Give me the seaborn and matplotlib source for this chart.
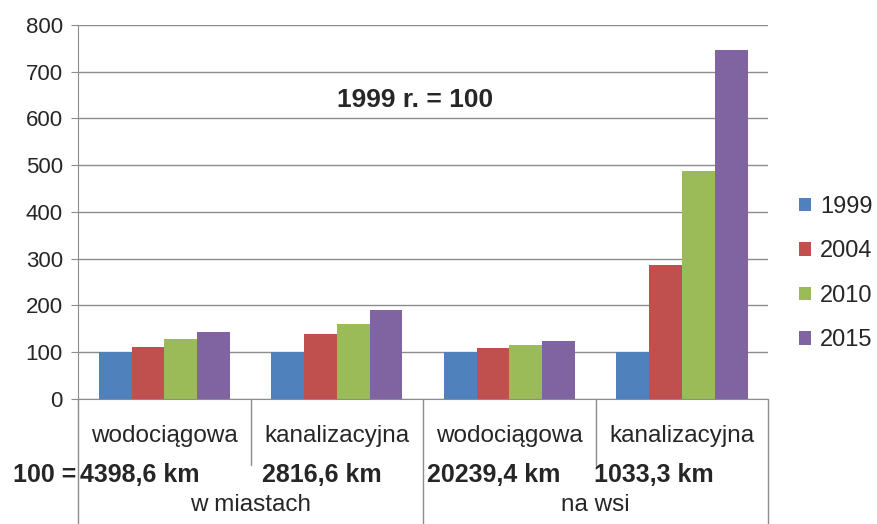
import pandas as pd
import matplotlib.pyplot as plt
import seaborn as sns
from matplotlib.lines import Line2D
import matplotlib.transforms as mtransforms

# dane (1999 r. = 100)
categories = ['wodociągowa\nw miastach', 'kanalizacyjna\nw miastach',
              'wodociągowa\nna wsi', 'kanalizacyjna\nna wsi']
sub_labels = ['wodociągowa', 'kanalizacyjna', 'wodociągowa', 'kanalizacyjna']
base_km = ['4398,6 km', '2816,6 km', '20239,4 km', '1033,3 km']
area_labels = ['w miastach', 'na wsi']
years = ['1999', '2004', '2010', '2015']
v1999 = [100, 100, 100, 100]
v2004 = [112, 139, 110, 287]
v2010 = [128, 160, 115, 487]
v2015 = [143, 190, 125, 746]

colors = ['#4F81BD', '#C0504D', '#9BBB59', '#8064A2']

rows = []
for yr, vals in zip(years, [v1999, v2004, v2010, v2015]):
    for cat, v in zip(categories, vals):
        rows.append({'kat': cat, 'rok': yr, 'val': v})
df = pd.DataFrame(rows)

sns.set_style('white')
plt.rcParams['font.family'] = ['Liberation Sans', 'DejaVu Sans']

fig = plt.figure(figsize=(8.77, 5.24), dpi=100)
ax = fig.add_axes([0.089, 0.2385, 0.787, 0.714])

sns.barplot(data=df, x='kat', y='val', hue='rok', palette=colors,
            width=0.76, saturation=1, linewidth=0, ax=ax, legend=True)

ax.set_xlim(-0.5, 3.5)
ax.set_ylim(0, 800)
ax.set_yticks(range(0, 801, 100))
ax.yaxis.grid(True, color='#8c8c8c', linewidth=1)
ax.set_axisbelow(True)
ax.set_xticks([])
ax.set_xlabel('')
ax.set_ylabel('')
for s in ['top', 'right']:
    ax.spines[s].set_visible(False)
for s in ['left', 'bottom']:
    ax.spines[s].set_color('#8c8c8c')
ax.tick_params(axis='y', direction='out', length=5, color='#8c8c8c',
               labelsize=16, left=True, pad=6)

ax.text(0.488, 0.8, '1999 r. = 100', transform=ax.transAxes, ha='center',
        va='center', fontsize=19, fontweight='bold')

# wielopoziomowa os kategorii
trans = mtransforms.blended_transform_factory(ax.transData, ax.transAxes)
for x in [-0.5, 1.5, 3.5]:
    ax.add_line(Line2D([x, x], [0, -0.334], transform=trans, color='#8c8c8c',
                       linewidth=1, clip_on=False))
for x in [0.5, 2.5]:
    ax.add_line(Line2D([x, x], [0, -0.176], transform=trans, color='#8c8c8c',
                       linewidth=1, clip_on=False))

for i, lab in enumerate(sub_labels):
    ax.text(i, -0.10, lab, transform=trans, ha='center', va='center', fontsize=17.5)

km_x = [-0.488, 0.567, 1.523, 2.491]
for x, lab in zip(km_x, base_km):
    ax.text(x, -0.203, lab, transform=trans, ha='left', va='center',
            fontsize=18, fontweight='bold')
ax.text(-0.51, -0.203, '100 =', transform=trans, ha='right', va='center',
        fontsize=18, fontweight='bold')

for x, lab in zip([0.5, 2.5], area_labels):
    ax.text(x, -0.283, lab, transform=trans, ha='center', va='center', fontsize=17.5)

leg = ax.legend(loc='center left', bbox_to_anchor=(0.9, 0.478),
                bbox_transform=fig.transFigure, frameon=False, fontsize=17,
                handlelength=0.5, handleheight=0.5, labelspacing=0.95,
                handletextpad=0.4, borderaxespad=0)

fig.savefig('out.png', dpi=100)
